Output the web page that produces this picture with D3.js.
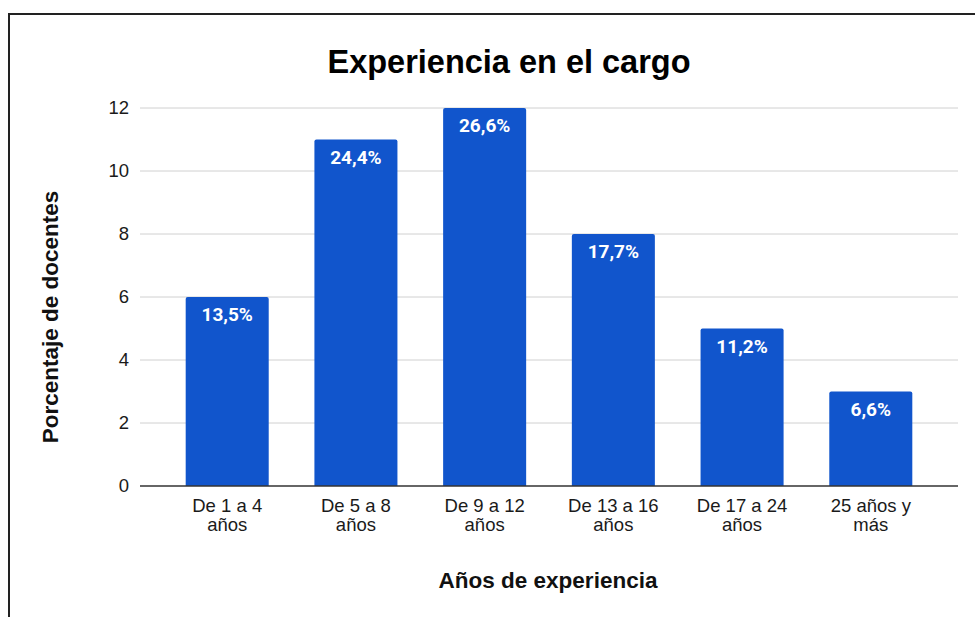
<!DOCTYPE html>
<meta charset="utf-8">
<style>
 body { margin: 0; background: #fff; }
 svg text { font-family: Arial, "Liberation Sans", sans-serif; }
 .axis text { font-size: 18.5px; fill: #1a1a1a; }
 .grid line { stroke: #d0d0d0; }
 .barlabel { font-size: 19px; font-weight: bold; fill: #fff; font-family: Roboto, Arial, sans-serif; }
</style>
<body>
<svg width="975" height="617"></svg>
<script src="https://d3js.org/d3.v7.min.js"></script>
<script>

 const categories = [["De 1 a 4", "años"], ["De 5 a 8", "años"], ["De 9 a 12", "años"],
                     ["De 13 a 16", "años"], ["De 17 a 24", "años"], ["25 años y", "más"]];
 const values = [6, 11, 12, 8, 5, 3];
 const pctLabels = ["13,5%", "24,4%", "26,6%", "17,7%", "11,2%", "6,6%"];
 const yTicks = [0, 2, 4, 6, 8, 10, 12];

 const svg = d3.select("svg");

 // frame
 svg.append("path")
    .attr("d", "M9,617V14H975")
    .attr("fill", "none")
    .attr("stroke", "#222")
    .attr("stroke-width", 2);

 const x = d3.scaleBand()
     .domain(d3.range(values.length))
     .range([140, 958])
     .padding(0.355);

 const y = d3.scaleLinear()
     .domain([0, 12])
     .range([486, 108]);

 // grid
 svg.append("g")
    .attr("class", "grid")
    .selectAll("line")
    .data(yTicks.slice(1))
    .join("line")
    .attr("x1", 140).attr("x2", 958)
    .attr("y1", d => y(d)).attr("y2", d => y(d));

 // y axis labels
 svg.append("g")
    .attr("class", "axis")
    .attr("transform", "translate(140,0)")
    .call(d3.axisLeft(y).tickValues(yTicks).tickSize(0).tickPadding(11))
    .call(g => g.select(".domain").remove());

 // bars
 svg.append("g")
    .selectAll("path")
    .data(values)
    .join("path")
    .attr("fill", "#1155cc")
    .attr("d", (d, i) => {
        const x0 = x(i), w = x.bandwidth(), y0 = y(d), y1 = y(0), r = 2;
        return `M${x0},${y1}V${y0 + r}Q${x0},${y0} ${x0 + r},${y0}H${x0 + w - r}Q${x0 + w},${y0} ${x0 + w},${y0 + r}V${y1}Z`;
    });

 svg.append("g")
    .selectAll("text")
    .data(values)
    .join("text")
    .attr("class", "barlabel")
    .attr("text-anchor", "middle")
    .attr("x", (d, i) => x(i) + x.bandwidth() / 2)
    .attr("y", d => y(d) + 24)
    .text((d, i) => pctLabels[i]);

 // baseline
 svg.append("line")
    .attr("x1", 140).attr("x2", 958)
    .attr("y1", y(0)).attr("y2", y(0))
    .attr("stroke", "#333")
    .attr("stroke-width", 1.5);

 // x category labels
 const xl = svg.append("g").attr("class", "axis")
    .selectAll("text")
    .data(categories)
    .join("text")
    .attr("text-anchor", "middle")
    .attr("x", (d, i) => x(i) + x.bandwidth() / 2)
    .attr("y", 512);
 xl.append("tspan").text(d => d[0]);
 xl.append("tspan")
   .attr("x", (d, i) => x(i) + x.bandwidth() / 2)
   .attr("dy", 19)
   .text(d => d[1]);

 // titles
 svg.append("text")
    .attr("x", 509).attr("y", 73)
    .attr("text-anchor", "middle")
    .attr("font-size", 32.5).attr("font-weight", "bold")
    .attr("fill", "#000")
    .text("Experiencia en el cargo");

 svg.append("text")
    .attr("x", 548).attr("y", 588)
    .attr("text-anchor", "middle")
    .attr("font-size", 22.5).attr("font-weight", "bold")
    .attr("fill", "#111")
    .text("Años de experiencia");

 svg.append("text")
    .attr("transform", "translate(58,317) rotate(-90)")
    .attr("text-anchor", "middle")
    .attr("font-size", 22.5).attr("font-weight", "bold")
    .attr("fill", "#111")
    .text("Porcentaje de docentes");

</script>
</body>
